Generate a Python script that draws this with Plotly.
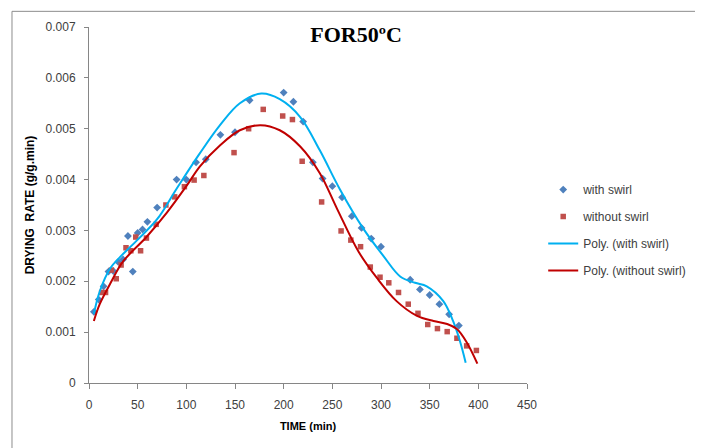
import plotly.graph_objects as go

time_with_swirl = [5, 10, 15, 20, 25, 30, 35, 40, 45, 50, 55, 60, 70, 90, 100, 110, 120, 135, 150, 165,
                   200, 210, 220, 230, 240, 250, 260, 270, 280, 290, 300, 330, 340, 350, 360, 370, 380]
rate_with_swirl = [0.0014, 0.00164, 0.0019, 0.00219, 0.0022, 0.00238, 0.00243, 0.00289, 0.00219, 0.00295,
                   0.00302, 0.00317, 0.00345, 0.004, 0.004, 0.00434, 0.0044, 0.00488, 0.00493, 0.00556,
                   0.00571, 0.00553, 0.00514, 0.00434, 0.00402, 0.00387, 0.00365, 0.00328, 0.00305, 0.00284,
                   0.00268, 0.00203, 0.00184, 0.00173, 0.00155, 0.00135, 0.00113]

time_without_swirl = [13, 17, 23, 28, 33, 38, 43, 48, 53, 59, 69, 79, 88, 98, 108, 118, 149, 164, 179,
                      199, 209, 219, 239, 259, 269, 279, 289, 299, 308, 318, 328, 338, 348, 358, 368, 378,
                      388, 398]
rate_without_swirl = [0.00178, 0.00178, 0.00222, 0.00205, 0.00232, 0.00266, 0.0026, 0.00287, 0.0026, 0.00285,
                      0.00312, 0.0035, 0.00366, 0.00386, 0.00399, 0.00408, 0.00453, 0.005, 0.00538,
                      0.00525, 0.00518, 0.00436, 0.00356, 0.00299, 0.00281, 0.00268, 0.00228, 0.00208,
                      0.00197, 0.00178, 0.00155, 0.00137, 0.00115, 0.00107, 0.00101, 0.00088, 0.00073,
                      0.00064]

# polynomial trendlines
fit_time_with_swirl = [5, 11, 22, 32, 49, 70, 90, 114, 135, 155, 177, 196, 217, 237, 258, 282, 302, 320,
                       335, 347, 364, 374, 381, 387]
fit_rate_with_swirl = [0.00136, 0.0018, 0.00226, 0.00248, 0.0028, 0.00322, 0.00382, 0.00452, 0.00508,
                       0.0055, 0.00569, 0.00558, 0.00523, 0.00458, 0.0038, 0.00303, 0.00251, 0.00209,
                       0.00197, 0.0019, 0.00161, 0.00122, 0.00083, 0.0004]

fit_time_without_swirl = [5, 11, 22, 35, 59, 80, 100, 114, 135, 155, 176, 196, 217, 237, 255, 277, 296,
                          316, 337, 354, 368, 378, 388, 399]
fit_rate_without_swirl = [0.00122, 0.00155, 0.00196, 0.00239, 0.00287, 0.00335, 0.00387, 0.00426, 0.00468,
                          0.00497, 0.00507, 0.00497, 0.00465, 0.00413, 0.00342, 0.00258, 0.00206, 0.00161,
                          0.00132, 0.00122, 0.00116, 0.00106, 0.0008, 0.00038]

x_ticks = [0, 50, 100, 150, 200, 250, 300, 350, 400, 450]
y_ticks = [0, 0.001, 0.002, 0.003, 0.004, 0.005, 0.006, 0.007]
y_tick_labels = ['0', '0.001', '0.002', '0.003', '0.004', '0.005', '0.006', '0.007']

AXIS_GREY = '#868686'
TEXT_GREY = '#404040'

# the page body adds an 8px margin, so the figure is drawn 8px smaller and offset back
W, H = 695, 440

fig = go.Figure()

fig.add_trace(go.Scatter(
    x=time_with_swirl, y=rate_with_swirl, mode='markers', name='with swirl',
    legendgroup='a', marker=dict(symbol='diamond', size=6, color='#4F81BD')
))
fig.add_trace(go.Scatter(
    x=time_without_swirl, y=rate_without_swirl, mode='markers', name='without swirl',
    legendgroup='b', marker=dict(symbol='square', size=5.5, color='#C0504D')
))
fig.add_trace(go.Scatter(
    x=fit_time_with_swirl, y=fit_rate_with_swirl, mode='lines', name='Poly. (with swirl)',
    legendgroup='c', line=dict(color='#00B0F0', width=2, shape='spline', smoothing=1)
))
fig.add_trace(go.Scatter(
    x=fit_time_without_swirl, y=fit_rate_without_swirl, mode='lines', name='Poly. (without swirl)',
    legendgroup='d', line=dict(color='#C00000', width=2, shape='spline', smoothing=1)
))

fig.update_layout(
    width=W,
    height=H,
    margin=dict(l=81, r=176, t=14, b=65),
    paper_bgcolor='white',
    plot_bgcolor='white',
    font=dict(family='Liberation Sans', size=12, color=TEXT_GREY),
    title=dict(
        text='<b>FOR50ºC</b>',
        font=dict(family='Liberation Serif', size=22, color='black'),
        x=348 / W, xanchor='center', xref='container',
        y=1 - 26 / H, yanchor='middle', yref='container'
    ),
    legend=dict(
        x=1.037, xanchor='left', y=0.584, yanchor='top',
        tracegroupgap=8, font=dict(size=12, color=TEXT_GREY),
        bgcolor='rgba(0,0,0,0)'
    ),
    shapes=[dict(
        type='rect', xref='paper', yref='paper',
        x0=-0.1758, x1=1.395, y0=-0.3, y1=1.044,
        line=dict(color='#8c8c8c', width=1)
    )]
)

fig.update_xaxes(
    range=[0, 450], tickvals=x_ticks, showgrid=False, zeroline=False,
    showline=True, linecolor=AXIS_GREY, linewidth=1,
    ticks='outside', ticklen=5, tickcolor=AXIS_GREY, ticklabelstandoff=6,
    title=dict(text='<b>TIME (min)</b>', font=dict(size=11, color='black'), standoff=10)
)
fig.update_yaxes(
    range=[0, 0.007], tickvals=y_ticks, ticktext=y_tick_labels, showgrid=False, zeroline=False,
    showline=True, linecolor=AXIS_GREY, linewidth=1,
    ticks='outside', ticklen=4, tickcolor=AXIS_GREY, ticklabelstandoff=6,
    title=dict(text='<b>DRYING\u00a0 RATE (g/g.min)</b>', font=dict(size=12, color='black'), standoff=8)
)

fig.write_html("out.html")
